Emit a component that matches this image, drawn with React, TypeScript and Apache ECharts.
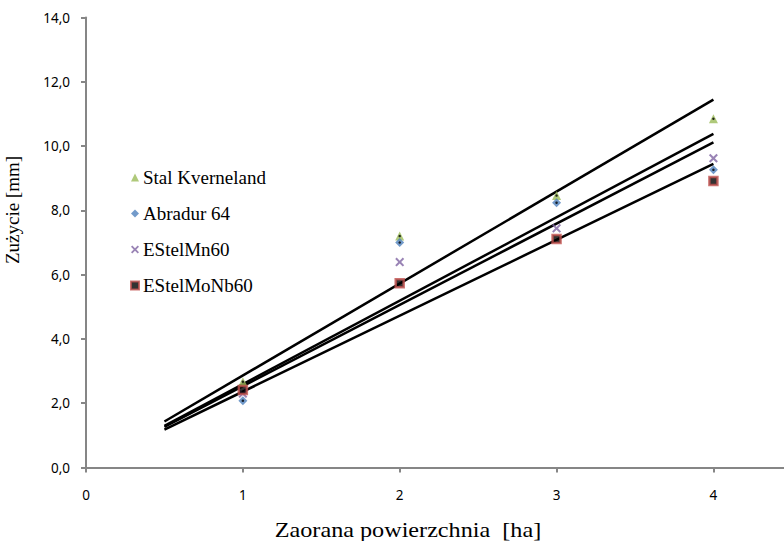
import React, { useEffect, useRef } from "react";
import * as echarts from "echarts";

const xValues = [1, 2, 3, 4];
const stalKverneland = [2.67, 7.2, 8.46, 10.85];
const abradur64 = [2.08, 7.0, 8.24, 9.26];
const estelMn60 = [2.3, 6.39, 7.44, 9.62];
const estelMoNb60 = [2.41, 5.73, 7.11, 8.91];
const trendRange = [0.5, 4];

const crossPath = "path://M0,1.6L1.6,0L5,3.4L8.4,0L10,1.6L6.6,5L10,8.4L8.4,10L5,6.6L1.6,10L0,8.4L3.4,5Z";

function pairs(ys: number[]) {
  return xValues.map((x, i) => [x, ys[i]]);
}
// linear trendline through origin (as in the source chart)
function trend(ys: number[]) {
  let sxy = 0, sxx = 0;
  xValues.forEach((x, i) => { sxy += x * ys[i]; sxx += x * x; });
  const k = sxy / sxx;
  return trendRange.map((x) => [x, k * x]);
}

export default function App() {
  const ref = useRef<HTMLDivElement>(null);
  useEffect(() => {
    if (!ref.current) return;
    const chart = echarts.init(ref.current, null, { renderer: "svg" });
    const serif = "Liberation Serif";
    const sans = "Noto Sans";
    const trendSeries = [stalKverneland, abradur64, estelMn60, estelMoNb60].map((ys, i) => ({
      name: "trend" + i,
      type: "line",
      data: trend(ys),
      symbol: "none",
      lineStyle: { color: "#000", width: 2.5 },
      z: 1,
      silent: true,
    }));
    chart.setOption({
      animation: false,
      grid: { left: 86, top: 17.5, right: 0, bottom: 73.5 },
      legend: {
        data: ["Stal Kverneland", "Abradur 64", "EStelMn60", "EStelMoNb60"],
        orient: "vertical",
        left: 125,
        top: 163,
        itemGap: 17,
        itemWidth: 8,
        itemHeight: 8,
        textStyle: { fontFamily: serif, fontSize: 19, color: "#000", padding: [0, 0, 0, -1] },
      },
      xAxis: {
        type: "value",
        min: 0,
        max: 4.45,
        interval: 1,
        axisLine: { lineStyle: { color: "#868686", width: 2 } },
        axisTick: { show: true, length: 5, lineStyle: { color: "#868686", width: 2 } },
        axisLabel: { showMaxLabel: false, margin: 20, fontFamily: sans, fontSize: 13.5, color: "#000" },
        splitLine: { show: false },
      },
      yAxis: {
        type: "value",
        min: 0,
        max: 14,
        interval: 2,
        axisLine: { show: true, lineStyle: { color: "#868686", width: 2 } },
        axisTick: { show: true, length: 5, lineStyle: { color: "#868686", width: 2 } },
        axisLabel: {
          margin: 16,
          fontFamily: sans,
          fontSize: 13.5,
          color: "#000",
          formatter: (v: number) => v.toFixed(1).replace(".", ","),
        },
        splitLine: { show: false },
      },
      graphic: [
        {
          type: "text",
          x: 408,
          y: 530,
          scaleX: 1.18,
          style: { text: "Zaorana powierzchnia  [ha]", fontFamily: serif, fontSize: 20.5, fill: "#000", align: "center", verticalAlign: "middle" },
        },
        {
          type: "text",
          x: 12,
          y: 210,
          rotation: Math.PI / 2,
          style: { text: "Zużycie [mm]", fontFamily: serif, fontSize: 19, fill: "#000", align: "center", verticalAlign: "middle" },
        },
      ],
      series: [
        ...trendSeries,
        {
          name: "Stal Kverneland",
          type: "scatter",
          data: pairs(stalKverneland),
          symbol: "triangle",
          symbolSize: 9,
          itemStyle: { color: "#9BBB59" },
          z: 3,
        },
        {
          name: "Abradur 64",
          type: "scatter",
          data: pairs(abradur64),
          symbol: "diamond",
          symbolSize: 9,
          itemStyle: { color: "#4F81BD" },
          z: 3,
        },
        {
          name: "EStelMn60",
          type: "scatter",
          data: pairs(estelMn60),
          symbol: crossPath,
          symbolSize: 9,
          itemStyle: { color: "#8064A2" },
          z: 3,
        },
        {
          name: "EStelMoNb60",
          type: "scatter",
          data: pairs(estelMoNb60),
          symbol: "rect",
          symbolSize: 8,
          itemStyle: { color: "#000", borderColor: "#C0504D", borderWidth: 2.5 },
          z: 3,
        },
        {
          name: "dotsA",
          type: "scatter",
          data: [...pairs(stalKverneland), ...pairs(abradur64)],
          symbol: "circle",
          symbolSize: 2.5,
          itemStyle: { color: "#000" },
          z: 4,
          silent: true,
        },
      ],
    });
    return () => chart.dispose();
  }, []);
  return <div ref={ref} style={{ width: 784, height: 541, position: "absolute", left: 0, top: 0 }} />;
}
